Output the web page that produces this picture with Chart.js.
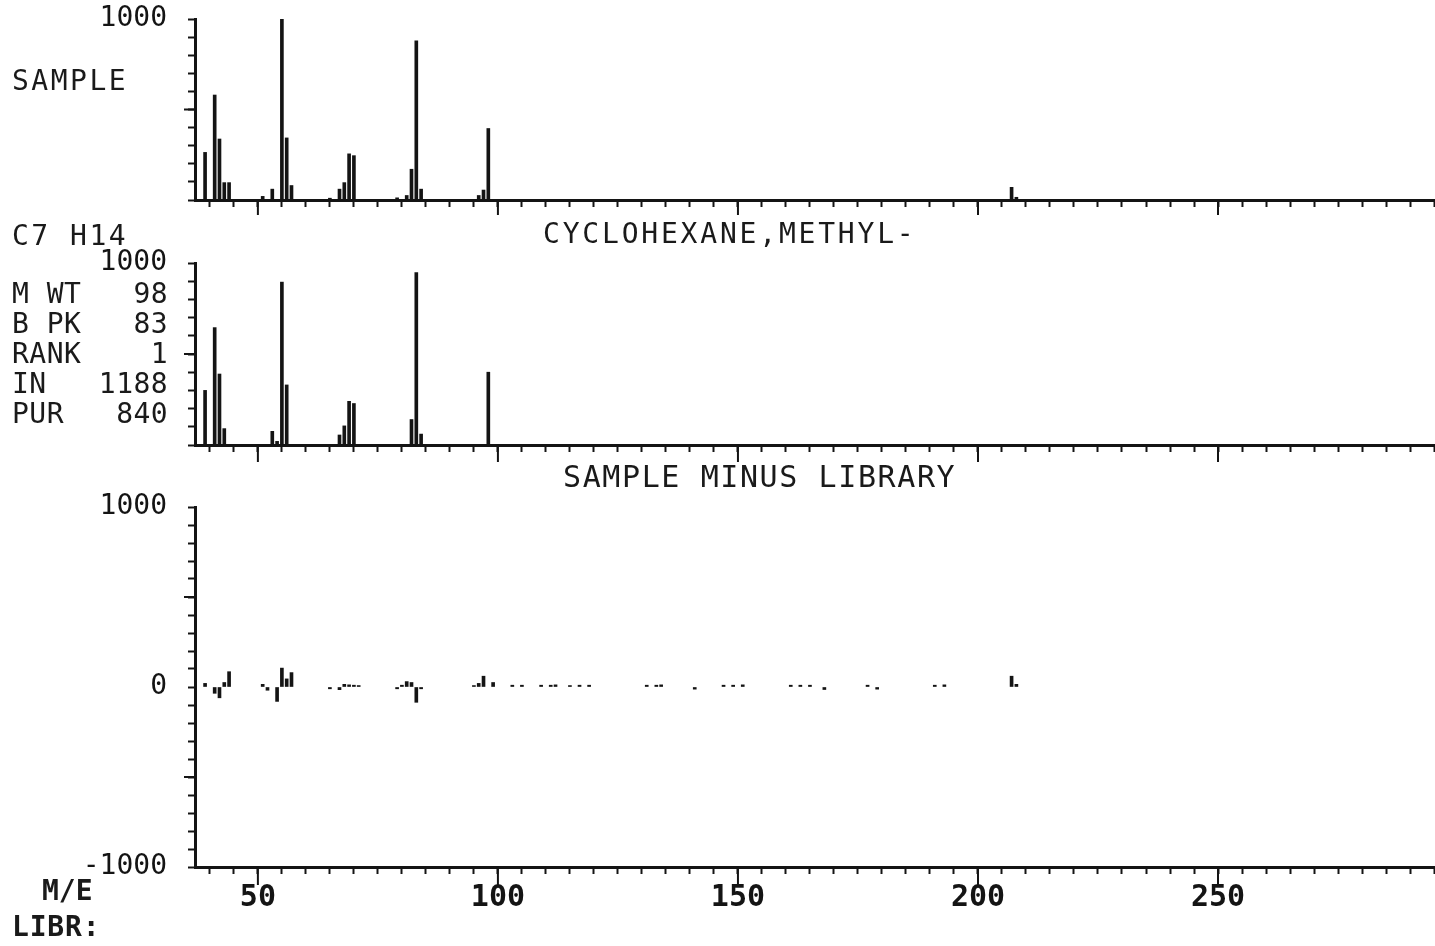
<!DOCTYPE html>
<html>
<head>
<meta charset="utf-8">
<title>CYCLOHEXANE, METHYL- library search</title>
<script src="https://cdn.jsdelivr.net/npm/chart.js@4.4.1/dist/chart.umd.min.js"></script>
<style>
  html, body { margin: 0; padding: 0; background: #fff; }
  #page { position: relative; width: 1435px; height: 946px; overflow: hidden; background: #fff; }
  canvas { position: absolute; left: 0; }
  .txt {
    position: absolute;
    font-family: "DejaVu Sans Mono", monospace;
    font-size: 28px;
    line-height: 30px;
    color: #1a1a1a;
    white-space: pre;
  }
</style>
</head>
<body>
<div id="page">
  <canvas id="sampleChart" width="1435" height="230" style="top:0px"></canvas>
  <canvas id="libChart" width="1435" height="240" style="top:230px"></canvas>
  <canvas id="diffChart" width="1435" height="476" style="top:470px"></canvas>

  <div class="txt" style="left:12px; top:66px; letter-spacing:2.5px">SAMPLE</div>

  <div class="txt" style="left:12px; top:221px; letter-spacing:2.5px">C7 H14</div>
  <div class="txt" style="left:543px; top:219px; letter-spacing:2.8px">CYCLOHEXANE,METHYL-</div>
  <div class="txt" style="left:12px; top:279px; letter-spacing:0.5px">M WT   98</div>
  <div class="txt" style="left:12px; top:309px; letter-spacing:0.5px">B PK   83</div>
  <div class="txt" style="left:12px; top:339px; letter-spacing:0.5px">RANK    1</div>
  <div class="txt" style="left:12px; top:369px; letter-spacing:0.5px">IN   1188</div>
  <div class="txt" style="left:12px; top:399px; letter-spacing:0.5px">PUR   840</div>

  <div class="txt" style="left:563px; top:461px; font-size:30px; line-height:32px; letter-spacing:1.6px">SAMPLE MINUS LIBRARY</div>

  <div class="txt" style="left:42px; top:876px; font-weight:bold">M/E</div>
  <div class="txt" style="left:12px; top:912px; font-weight:bold; letter-spacing:0.8px">LIBR:</div>
</div>

<script>
// m/e values and abundances (scale 0..1000)
const sampleMass = [39, 41, 42, 43, 44, 51, 53, 55, 56, 57, 65, 67, 68, 69, 70, 79, 81, 82, 83, 84, 96, 97, 98, 207, 208];
const sampleAbund = [263, 580, 337, 96, 96, 20, 60, 1000, 343, 80, 10, 60, 96, 255, 245, 12, 25, 170, 880, 60, 25, 55, 395, 70, 15];

// library spectrum: cyclohexane, methyl-
const libMass = [39, 41, 42, 43, 53, 54, 55, 56, 67, 68, 69, 70, 82, 83, 84, 98];
const libAbund = [300, 645, 390, 90, 75, 20, 895, 330, 55, 105, 240, 228, 140, 947, 60, 400];

// sample minus library (small residue marks around zero)
const diffMass = [39, 41, 42, 43, 44, 51, 52, 54, 55, 56, 57, 65, 67, 68, 69, 70, 71, 79, 80, 81, 82, 83, 84,
                  95, 96, 97, 99, 103, 105, 109, 111, 112, 115, 117, 119, 131, 133, 134, 141, 147, 149, 151,
                  161, 163, 165, 168, 177, 179, 191, 193, 207, 208];
const diffAbund = [20, -35, -60, 25, 85, 15, -18, -80, 105, 45, 80, -10, -15, 15, 12, 10, 8, -10, 10, 30, 25, -85, -10,
                   8, 20, 60, 25, 10, 10, 10, 10, 12, 8, 10, 10, 10, 10, 12, -12, 10, 10, 12,
                   10, 10, 10, -14, 10, -12, 10, 12, 60, 15];

// axis labels
const massLabels = [50, 100, 150, 200, 250];
const topLabels = [1000];
const diffLabels = [1000, 0, -1000];

const ink = '#141414';
const mzMin = 36.9;
const mzMax = 295.2;

// longer tick marks at every 50 m/e and at the half scale
const longTicks = {
  id: 'longTicks',
  afterDraw(chart, args, opts) {
    const ctx = chart.ctx;
    const area = chart.chartArea;
    ctx.save();
    ctx.strokeStyle = ink;
    ctx.lineWidth = 2;
    for (const m of opts.x) {
      const px = chart.scales.x.getPixelForValue(m);
      ctx.beginPath();
      ctx.moveTo(px, area.bottom);
      ctx.lineTo(px, area.bottom + opts.xLen);
      ctx.stroke();
    }
    for (const v of opts.y) {
      const py = chart.scales.y.getPixelForValue(v);
      ctx.beginPath();
      ctx.moveTo(area.left, py);
      ctx.lineTo(area.left - opts.yLen, py);
      ctx.stroke();
    }
    ctx.restore();
  }
};

function spectrumChart(id, masses, values, cfg) {
  let points = masses.map((m, i) => ({ x: m, y: values[i] }));

  return new Chart(document.getElementById(id), {
    type: 'bar',
    data: {
      datasets: [{
        data: points,
        backgroundColor: ink,
        borderWidth: 0,
        barThickness: 3
      }]
    },
    options: {
      responsive: false,
      animation: false,
      layout: { padding: { top: cfg.padTop, left: 0, right: 0, bottom: 0 } },
      plugins: {
        legend: { display: false },
        tooltip: { enabled: false },
        longTicks: { x: massLabels, y: cfg.yLong, xLen: cfg.xLong, yLen: 11 }
      },
      scales: {
        x: {
          type: 'linear',
          min: mzMin,
          max: mzMax,
          offset: false,
          // fixed axis band so the plot areas line up with the printout
          afterFit: function(scale) {
            scale.height = cfg.xHeight;
            scale.paddingLeft = 0;
            scale.paddingRight = 0;
          },
          border: { display: true, color: ink, width: 3 },
          grid: { offset: false, drawOnChartArea: false, drawTicks: true, tickLength: 7, tickWidth: 2, tickColor: ink },
          ticks: {
            display: cfg.showMass,
            stepSize: 5,
            includeBounds: false,
            autoSkip: false,
            maxRotation: 0,
            padding: 6,
            color: ink,
            font: { family: 'DejaVu Sans Mono', size: 30, weight: 'bold' },
            callback: function(v) { return massLabels.includes(v) ? String(v) : ''; }
          }
        },
        y: {
          min: cfg.yMin,
          max: 1000,
          afterFit: function(scale) {
            scale.width = 195;
            scale.paddingTop = 0;
            scale.paddingBottom = 0;
          },
          border: { display: true, color: ink, width: 3 },
          grid: { drawOnChartArea: false, drawTicks: true, tickLength: 7, tickWidth: 2, tickColor: ink },
          ticks: {
            stepSize: 100,
            autoSkip: false,
            padding: 21,
            color: ink,
            font: { family: 'DejaVu Sans Mono', size: 28 },
            callback: function(v) { return cfg.yLabels.includes(v) ? String(v) : ''; }
          }
        }
      }
    },
    plugins: [longTicks]
  });
}

spectrumChart('sampleChart', sampleMass, sampleAbund,
  { padTop: 19, xHeight: 30, yMin: 0, yLabels: topLabels, yLong: [500], xLong: 15, showMass: false });
spectrumChart('libChart', libMass, libAbund,
  { padTop: 33, xHeight: 25, yMin: 0, yLabels: topLabels, yLong: [500], xLong: 17, showMass: false });
spectrumChart('diffChart', diffMass, diffAbund,
  { padTop: 37, xHeight: 79, yMin: -1000, yLabels: diffLabels, yLong: [500, -500], xLong: 18, showMass: true });
</script>
</body>
</html>
